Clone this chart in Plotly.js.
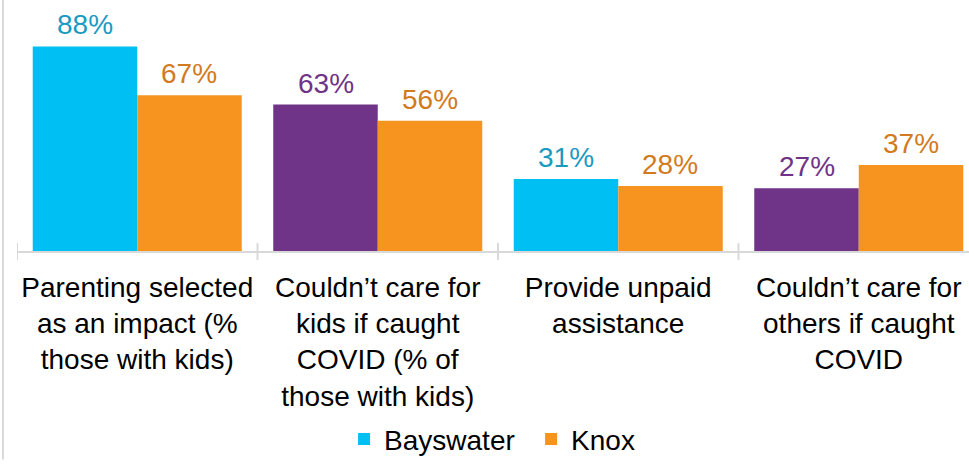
<!DOCTYPE html>
<html>
<head>
<meta charset="utf-8">
<script src="https://cdn.plot.ly/plotly-3.0.1.min.js"></script>
<style>html,body{margin:0;padding:0;background:#fff;}#chart{width:969px;height:465px;}</style>
</head>
<body>
<div id="chart"></div>
<script>
const categories = [
  "Parenting selected<br>as an impact (%<br>those with kids)",
  "Couldn’t care for<br>kids if caught<br>COVID (% of<br>those with kids)",
  "Provide unpaid<br>assistance",
  "Couldn’t care for<br>others if caught<br>COVID"
];
const bayswater = [88, 63, 31, 27];
const knox = [67, 56, 28, 37];

const bayswaterBarColors = ['#00BFF3', '#6F3387', '#00BFF3', '#6F3387'];
const bayswaterTextColors = ['#1A9AC2', '#6F3387', '#1A9AC2', '#6F3387'];
const knoxBarColor = '#F7941F';
const knoxTextColor = '#D27A1E';

const FONT = 'Liberation Sans, Arial, sans-serif';

const traces = [
  {
    type: 'bar', name: 'Bayswater', x: categories, y: bayswater,
    marker: {color: bayswaterBarColors}, hoverinfo: 'skip'
  },
  {
    type: 'bar', name: 'Knox', x: categories, y: knox,
    marker: {color: knoxBarColor}, hoverinfo: 'skip'
  }
];

const annotations = [];
categories.forEach((c, i) => {
  annotations.push({
    x: c, y: bayswater[i], xref: 'x', yref: 'y', text: bayswater[i] + '%',
    showarrow: false, xanchor: 'center', yanchor: 'bottom', xshift: -52, yshift: 4,
    font: {family: FONT, size: 28, color: bayswaterTextColors[i]}
  });
  annotations.push({
    x: c, y: knox[i], xref: 'x', yref: 'y', text: knox[i] + '%',
    showarrow: false, xanchor: 'center', yanchor: 'bottom', xshift: 52, yshift: 4,
    font: {family: FONT, size: 28, color: knoxTextColor}
  });
});

const px = 254; // plot height in px
const tickUp = 8 / px, tickDown = 9 / px;
const shapes = [-0.5, 0.5, 1.5, 2.5].map(b => ({
  type: 'line', xref: 'x', yref: 'paper', x0: b, x1: b, y0: -tickDown, y1: tickUp,
  line: {color: '#D9D9D9', width: 2}
}));
shapes.push({
  type: 'line', xref: 'paper', yref: 'paper', x0: -14/952, x1: -14/952, y0: -211/px, y1: 1,
  line: {color: '#D9D9D9', width: 2}
});

const layout = {
  width: 969, height: 465,
  margin: {l: 17, r: 0, t: 0, b: 211, pad: 0},
  paper_bgcolor: '#ffffff', plot_bgcolor: '#ffffff',
  barmode: 'group', bargap: 0.131, bargroupgap: 0,
  font: {family: FONT, color: '#000000'},
  xaxis: {
    type: 'category', range: [-0.5, 3.4584],
    showline: true, linecolor: '#D9D9D9', linewidth: 2,
    ticks: '', showgrid: false, zeroline: false,
    tickfont: {family: FONT, size: 28, color: '#000000'},
    ticklabelstandoff: 10
  },
  yaxis: {
    range: [0, 108], visible: false, showgrid: false, zeroline: false
  },
  showlegend: true,
  legend: {
    orientation: 'h', x: 0.54, xanchor: 'center', y: -0.75, yanchor: 'middle',
    font: {family: FONT, size: 28, color: '#000000'},
    itemwidth: 30, tracegroupgap: 0,
    entrywidth: 142, entrywidthmode: 'pixels'
  },
  annotations: annotations,
  shapes: shapes
};

Plotly.newPlot('chart', traces, layout, {displayModeBar: false, staticPlot: true});
</script>
</body>
</html>
